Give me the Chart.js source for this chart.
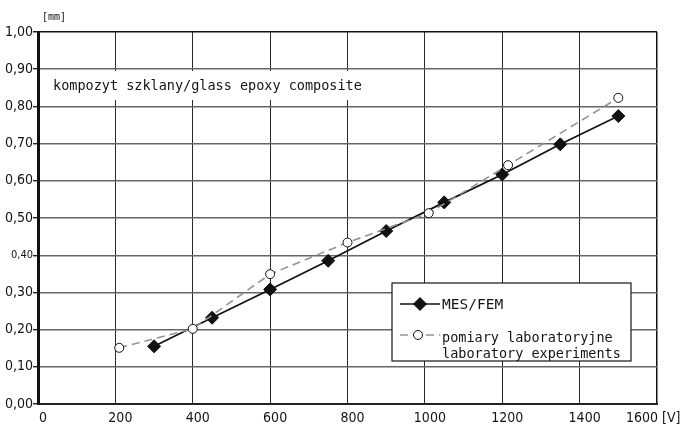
<!DOCTYPE html>
<html>
<head>
<meta charset="utf-8">
<script src="https://cdn.jsdelivr.net/npm/chart.js@4.4.1/dist/chart.umd.min.js"></script>
<style>
  html, body { margin: 0; padding: 0; background: #fff; }
  canvas { display: block; }
</style>
</head>
<body>
<canvas id="chart" width="683" height="425"></canvas>
<script>
// MES/FEM simulation
const mesX = [300, 450, 600, 750, 900, 1050, 1200, 1350, 1500];
const mesY = [0.155, 0.232, 0.308, 0.385, 0.465, 0.542, 0.617, 0.698, 0.774];
// laboratory measurements
const labX = [210, 400, 600, 800, 1010, 1215, 1500];
const labY = [0.151, 0.202, 0.349, 0.434, 0.513, 0.642, 0.823];

const xTicks = [0, 200, 400, 600, 800, 1000, 1200, 1400, 1600];
const yTicks = [0, 0.1, 0.2, 0.3, 0.4, 0.5, 0.6, 0.7, 0.8, 0.9, 1.0];

const mesLabel = "MES/FEM";
const labLabel = ["pomiary laboratoryjne", "laboratory experiments"];
const note = "kompozyt szklany/glass epoxy composite";
const yUnit = "[mm]";
const xUnit = "[V]";

const tickFamily = "'DejaVu Sans Condensed', 'DejaVu Sans', sans-serif";
const textFamily = "'DejaVu Sans Mono', monospace";
const ink = "#141414";

const pts = (xs, ys) => xs.map((x, i) => ({ x: x, y: ys[i] }));
const fmtY = v => v.toFixed(2).replace(".", ",");
const near = (a, b) => Math.abs(a - b) < 1e-6;

const extras = {
  id: "extras",
  beforeDatasetsDraw(chart) {
    const { ctx, chartArea: a } = chart;
    ctx.save();
    // white box behind the note
    ctx.fillStyle = "#fff";
    ctx.fillRect(a.left + 3, a.top + 39, 333, 29);
    ctx.fillStyle = ink;
    ctx.font = "13.5px " + textFamily;
    ctx.textBaseline = "alphabetic";
    ctx.fillText(note, a.left + 15, a.top + 58);
    ctx.restore();
  },
  afterDraw(chart) {
    const { ctx, chartArea: a, scales } = chart;
    const ds = chart.data.datasets;
    ctx.save();

    // units
    ctx.fillStyle = ink;
    ctx.font = "10px " + textFamily;
    ctx.textAlign = "left";
    ctx.fillText(yUnit, a.left + 4, a.top - 12);

    ctx.font = "14px " + tickFamily;
    const xEnd = scales.x.getPixelForValue(xTicks[xTicks.length - 1]);
    ctx.textAlign = "right";
    ctx.fillText(String(xTicks[xTicks.length - 1]), xEnd + 1, 422);
    ctx.textAlign = "left";
    ctx.fillText(xUnit, xEnd + 5, 422);

    // legend box
    const lx = a.right - 265, ly = a.bottom - 121, lw = 239, lh = 78;
    ctx.fillStyle = "#fff";
    ctx.fillRect(lx, ly, lw, lh);
    ctx.strokeStyle = ink;
    ctx.lineWidth = 1.2;
    ctx.strokeRect(lx, ly, lw, lh);

    // MES entry
    let d = ds[0];
    ctx.strokeStyle = d.borderColor;
    ctx.lineWidth = d.borderWidth;
    ctx.setLineDash([]);
    ctx.beginPath();
    ctx.moveTo(lx + 8, ly + 21);
    ctx.lineTo(lx + 48, ly + 21);
    ctx.stroke();
    ctx.fillStyle = d.pointBackgroundColor;
    ctx.strokeStyle = d.pointBorderColor;
    ctx.lineWidth = 1;
    Chart.helpers.drawPoint(ctx, { pointStyle: d.pointStyle, radius: d.pointRadius, rotation: 0, borderWidth: 1 }, lx + 28, ly + 21);
    ctx.fillStyle = ink;
    ctx.font = "14.5px " + textFamily;
    ctx.fillText(d.label, lx + 50, ly + 26);

    // lab entry
    d = ds[1];
    ctx.strokeStyle = d.borderColor;
    ctx.lineWidth = d.borderWidth;
    ctx.setLineDash(d.borderDash);
    ctx.beginPath();
    ctx.moveTo(lx + 8, ly + 52);
    ctx.lineTo(lx + 48, ly + 52);
    ctx.stroke();
    ctx.setLineDash([]);
    ctx.fillStyle = d.pointBackgroundColor;
    ctx.strokeStyle = d.pointBorderColor;
    ctx.lineWidth = d.pointBorderWidth;
    Chart.helpers.drawPoint(ctx, { pointStyle: d.pointStyle, radius: d.pointRadius, rotation: 0, borderWidth: d.pointBorderWidth }, lx + 26, ly + 52);
    ctx.fillStyle = ink;
    ctx.font = "13.5px " + textFamily;
    ctx.fillText(labLabel[0], lx + 50, ly + 59);
    ctx.fillText(labLabel[1], lx + 50, ly + 74.5);

    ctx.restore();
  }
};

new Chart(document.getElementById("chart"), {
  type: "scatter",
  data: {
    datasets: [
      {
        label: mesLabel,
        data: pts(mesX, mesY),
        showLine: true,
        borderColor: "#111",
        borderWidth: 1.7,
        pointStyle: "rectRot",
        pointRadius: 6.5,
        pointBackgroundColor: "#111",
        pointBorderColor: "#111",
        pointBorderWidth: 1,
        order: 2
      },
      {
        label: labLabel.join(" "),
        data: pts(labX, labY),
        showLine: true,
        borderColor: "#939393",
        borderWidth: 1.6,
        borderDash: [8, 5],
        pointStyle: "circle",
        pointRadius: 4.5,
        pointBackgroundColor: "#fff",
        pointBorderColor: "#111",
        pointBorderWidth: 1,
        order: 1
      }
    ]
  },
  options: {
    responsive: false,
    animation: false,
    layout: { padding: { top: 32, right: 26, left: 0, bottom: 0 } },
    plugins: { legend: { display: false }, tooltip: { enabled: false } },
    scales: {
      x: {
        type: "linear",
        min: 0,
        max: 1600,
        afterBuildTicks: s => { s.ticks = xTicks.map(v => ({ value: v })); },
        afterFit: s => { s.height = 21; },
        border: { color: "#222", width: 2 },
        grid: {
          drawTicks: false,
          color: c => (c.tick && c.tick.value === 1600 ? "#111" : "#2a2a2a"),
          lineWidth: c => (c.tick && c.tick.value === 1600 ? 1.5 : 1)
        },
        ticks: {
          color: ink,
          padding: 6,
          labelOffset: 5,
          maxRotation: 0,
          autoSkip: false,
          font: { family: tickFamily, size: 14 },
          callback: v => (v === 1600 ? "" : String(v))
        }
      },
      y: {
        min: 0,
        max: 1,
        afterBuildTicks: s => { s.ticks = yTicks.map(v => ({ value: v })); },
        afterFit: s => { s.width = 38; },
        border: { color: "#111", width: 3 },
        grid: {
          tickLength: 5,
          tickColor: "#222",
          color: c => (c.tick && near(c.tick.value, 1) ? "#111" : "#666"),
          lineWidth: c => (c.tick && near(c.tick.value, 1) ? 1.5 : 1.4)
        },
        ticks: {
          color: ink,
          padding: 0,
          autoSkip: false,
          font: c => ({ family: tickFamily, size: c.tick && near(c.tick.value, 0.4) ? 11 : 14 }),
          callback: v => fmtY(v)
        }
      }
    }
  },
  plugins: [extras]
});
</script>
</body>
</html>
